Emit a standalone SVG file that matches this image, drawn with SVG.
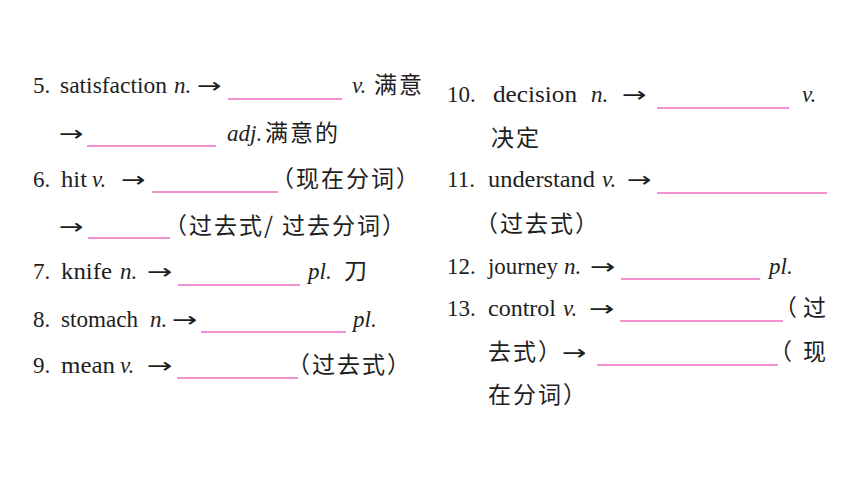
<svg xmlns="http://www.w3.org/2000/svg" width="860" height="484" viewBox="0 0 860 484">
<style>
.t{font-family:"Liberation Serif","Noto Sans CJK SC",serif;font-size:23px;fill:#1e1e1e}
.i{font-style:italic}
.a{font-family:"DejaVu Sans",sans-serif;font-size:21px;fill:#1e1e1e}
.c{font-family:"Noto Sans CJK SC","Liberation Serif",sans-serif;font-size:23px;letter-spacing:2px;text-spacing-trim:space-all;fill:#1e1e1e}
.u{stroke:#ec6cc0;stroke-width:1.3;fill:none}
</style>
<rect width="860" height="484" fill="#ffffff"/>
<g id="item5">
<text class="t" x="33" y="93">5.</text>
<text class="t" x="60" y="93" textLength="107" lengthAdjust="spacingAndGlyphs">satisfaction</text>
<text class="t i" x="174" y="93">n.</text>
<text class="a" transform="translate(197 93) scale(1.4 1)">→</text>
<line class="u" x1="228" y1="99" x2="342" y2="99"/>
<text class="t i" x="352" y="93">v.</text>
<text class="c" x="374" y="93">满意</text>
<text class="a" transform="translate(59 141) scale(1.4 1)">→</text>
<line class="u" x1="87" y1="146" x2="216" y2="146"/>
<text class="t i" x="227" y="141">adj.</text>
<text class="c" x="265" y="141">满意的</text>
</g>
<g id="item6">
<text class="t" x="33" y="187">6.</text>
<text class="t" x="61" y="187" textLength="26" lengthAdjust="spacingAndGlyphs">hit</text>
<text class="t i" x="92" y="187">v.</text>
<text class="a" transform="translate(121 187) scale(1.4 1)">→</text>
<line class="u" x1="152" y1="192" x2="278" y2="192"/>
<text class="c" x="271" y="187">（现在分词）</text>
<text class="a" transform="translate(59 234) scale(1.4 1)">→</text>
<line class="u" x1="88" y1="238" x2="170" y2="238"/>
<text class="c" x="164" y="234">（过去式/</text>
<text class="c" x="282" y="234">过去分词）</text>
</g>
<g id="item7">
<text class="t" x="33" y="279">7.</text>
<text class="t" x="61" y="279" textLength="51" lengthAdjust="spacingAndGlyphs">knife</text>
<text class="t i" x="120" y="279">n.</text>
<text class="a" transform="translate(147 279) scale(1.45 1)">→</text>
<line class="u" x1="178" y1="285" x2="300" y2="285"/>
<text class="t i" x="308" y="279">pl.</text>
<text class="c" x="344" y="279">刀</text>
</g>
<g id="item8">
<text class="t" x="33" y="327">8.</text>
<text class="t" x="61" y="327" textLength="77" lengthAdjust="spacingAndGlyphs">stomach</text>
<text class="t i" x="150" y="327">n.</text>
<text class="a" transform="translate(172 327) scale(1.45 1)">→</text>
<line class="u" x1="201" y1="332" x2="346" y2="332"/>
<text class="t i" x="353" y="327">pl.</text>
</g>
<g id="item9">
<text class="t" x="33" y="373">9.</text>
<text class="t" x="61" y="373" textLength="54" lengthAdjust="spacingAndGlyphs">mean</text>
<text class="t i" x="120" y="373">v.</text>
<text class="a" transform="translate(147 373) scale(1.45 1)">→</text>
<line class="u" x1="177" y1="378" x2="298" y2="378"/>
<text class="c" x="287" y="373">（过去式）</text>
</g>
<g id="item10">
<text class="t" x="447" y="102">10.</text>
<text class="t" x="493" y="102" textLength="84" lengthAdjust="spacingAndGlyphs">decision</text>
<text class="t i" x="591" y="102">n.</text>
<text class="a" transform="translate(622 102) scale(1.4 1)">→</text>
<line class="u" x1="657" y1="108" x2="789" y2="108"/>
<text class="t i" x="802" y="102">v.</text>
<text class="c" x="491" y="146">决定</text>
</g>
<g id="item11">
<text class="t" x="447" y="187">11.</text>
<text class="t" x="488" y="187" textLength="107" lengthAdjust="spacingAndGlyphs">understand</text>
<text class="t i" x="602" y="187">v.</text>
<text class="a" transform="translate(627 187) scale(1.4 1)">→</text>
<line class="u" x1="657" y1="193" x2="827" y2="193"/>
<text class="c" x="475" y="232">（过去式）</text>
</g>
<g id="item12">
<text class="t" x="447" y="274">12.</text>
<text class="t" x="488" y="274" textLength="70" lengthAdjust="spacingAndGlyphs">journey</text>
<text class="t i" x="564" y="274">n.</text>
<text class="a" transform="translate(590 274) scale(1.45 1)">→</text>
<line class="u" x1="621" y1="279" x2="760" y2="279"/>
<text class="t i" x="769" y="274">pl.</text>
</g>
<g id="item13">
<text class="t" x="447" y="316">13.</text>
<text class="t" x="488" y="316" textLength="68" lengthAdjust="spacingAndGlyphs">control</text>
<text class="t i" x="563" y="316">v.</text>
<text class="a" transform="translate(589 316) scale(1.45 1)">→</text>
<line class="u" x1="620" y1="321" x2="783" y2="321"/>
<text class="c" x="774" y="316">（</text>
<text class="c" x="803" y="316">过</text>
<text class="c" x="488" y="360">去式）</text>
<text class="a" transform="translate(562 360) scale(1.4 1)">→</text>
<line class="u" x1="597" y1="365" x2="778" y2="365"/>
<text class="c" x="769" y="360">（</text>
<text class="c" x="803" y="360">现</text>
<text class="c" x="488" y="403">在分词）</text>
</g>
</svg>
